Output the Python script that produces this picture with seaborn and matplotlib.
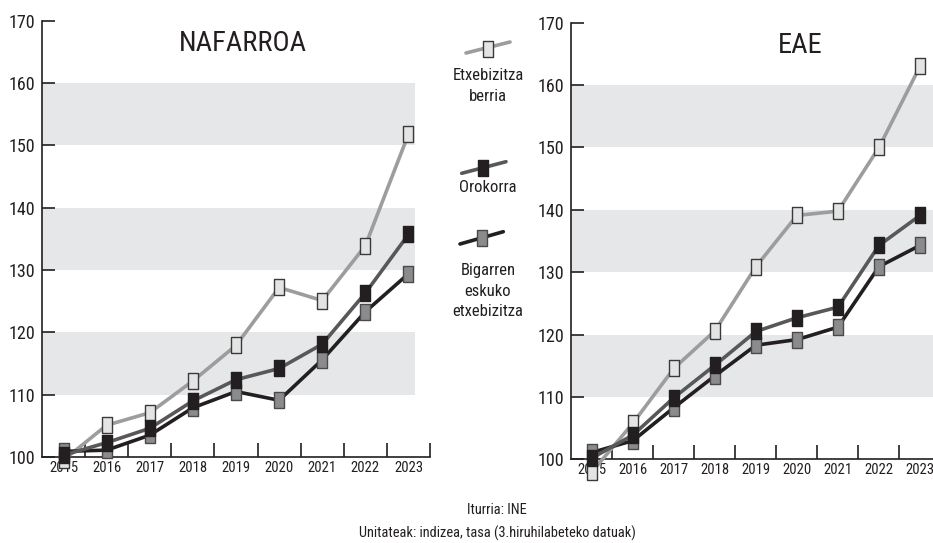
import numpy as np
import pandas as pd
import seaborn as sns
import matplotlib.pyplot as plt
from matplotlib.lines import Line2D

# Data
years = ["2015", "2016", "2017", "2018", "2019", "2020", "2021", "2022", "2023"]
series = ["Etxebizitza berria", "Bigarren eskuko etxebizitza", "Orokorra"]

nafarroa_berria = [99.5, 105.1, 107.1, 112.2, 117.9, 127.2, 125.1, 133.9, 151.8]
nafarroa_orokorra = [100.3, 102.3, 104.6, 109.0, 112.4, 114.2, 118.1, 126.3, 135.7]
nafarroa_bigarren = [100.9, 101.1, 103.5, 107.9, 110.5, 109.1, 115.6, 123.3, 129.4]

eae_berria = [98.0, 105.8, 114.6, 120.6, 130.9, 139.1, 139.8, 150.0, 163.0]
eae_orokorra = [100.2, 103.9, 109.9, 115.1, 120.5, 122.7, 124.4, 134.3, 139.1]
eae_bigarren = [101.1, 103.0, 108.3, 113.4, 118.3, 119.2, 121.2, 130.9, 134.3]

ink = '#231f20'
styles = {
    "Etxebizitza berria": dict(color='#9d9d9f', mfc='#e4e4e5', mec='#3a3a3a'),
    "Orokorra": dict(color='#58585a', mfc=ink, mec=ink),
    "Bigarren eskuko etxebizitza": dict(color=ink, mfc='#8b8b8d', mec='#4a4a4a'),
}
rect = [(-0.7, -1), (0.7, -1), (0.7, 1), (-0.7, 1), (-0.7, -1)]

sns.set_style("ticks")
plt.rcParams['font.family'] = ['Roboto Condensed', 'Liberation Sans Narrow', 'Arial Narrow',
                               'Roboto', 'DejaVu Sans']
plt.rcParams['font.stretch'] = 'condensed'
plt.rcParams['text.color'] = ink

fig = plt.figure(figsize=(9.33, 5.43), dpi=100)
ax_l = fig.add_axes([0.045, 0.1584, 0.4159, 0.8035])
ax_r = fig.add_axes([0.6125, 0.1541, 0.3955, 0.804])


def draw_panel(ax, data, title, title_x, band_xmax):
    for lo in [110, 130, 150]:
        ax.axhspan(lo, lo + 10, xmin=0, xmax=band_xmax, color='#e6e7e8', lw=0, zorder=0)
    df = pd.DataFrame({'pos': list(range(len(years))) * 3,
                       'value': data[series[0]] + data[series[1]] + data[series[2]],
                       'series': np.repeat(series, len(years))})
    for name in series:
        st = styles[name]
        sns.lineplot(data=df[df['series'] == name], x='pos', y='value', ax=ax,
                     color=st['color'], linewidth=2.6, marker=rect, markersize=11,
                     markerfacecolor=st['mfc'], markeredgecolor=st['mec'],
                     markeredgewidth=1.0, clip_on=False, zorder=3, legend=False)
    ax.set_xlim(-0.5, 8.5)
    ax.set_ylim(100, 170)
    ax.set_xticks(range(len(years)))
    ax.set_xticklabels(years, fontsize=10.5)
    ax.set_xticks(np.arange(0.5, 9, 1), minor=True)
    ax.tick_params(axis='x', which='major', length=0, pad=3, colors=ink)
    ax.tick_params(axis='x', which='minor', direction='in', length=10, width=1.2, color=ink)
    ax.set_yticks(range(100, 171, 10))
    ax.tick_params(axis='y', direction='in', length=9, width=1.2, labelsize=13, pad=5, colors=ink)
    ax.set_xlabel('')
    ax.set_ylabel('')
    sns.despine(ax=ax)
    for s in ['left', 'bottom']:
        ax.spines[s].set_linewidth(1.2)
        ax.spines[s].set_color(ink)
    ax.text(title_x, 166.3, title, ha='center', va='center', fontsize=20.5)


draw_panel(ax_l, {"Etxebizitza berria": nafarroa_berria, "Orokorra": nafarroa_orokorra,
                  "Bigarren eskuko etxebizitza": nafarroa_bigarren}, "NAFARROA", 4.16, 0.961)
draw_panel(ax_r, {"Etxebizitza berria": eae_berria, "Orokorra": eae_orokorra,
                  "Bigarren eskuko etxebizitza": eae_bigarren}, "EAE", 5.08, 1.0)


# Legend in the middle, drawn in figure pixels
def px(x, y):
    return x / 933, 1 - y / 543


legend_items = [
    ("Etxebizitza berria", (466, 53), (510, 42), (488, 49), "Etxebizitza\nberria", 86),
    ("Orokorra", (461.7, 173.3), (506, 161.7), (483.3, 167.7), "Orokorra", 188),
    ("Bigarren eskuko etxebizitza", (460, 244), (503.3, 231.7), (482, 238),
     "Bigarren\neskuko\netxebizitza", 291),
]
for name, p0, p1, pm, label, ty in legend_items:
    st = styles[name]
    (x0, y0), (x1, y1) = px(*p0), px(*p1)
    fig.add_artist(Line2D([x0, x1], [y0, y1], transform=fig.transFigure,
                          color=st['color'], linewidth=2.6))
    mx, my = px(*pm)
    fig.add_artist(Line2D([mx], [my], transform=fig.transFigure, marker=rect,
                          markersize=11, markerfacecolor=st['mfc'],
                          markeredgecolor=st['mec'], markeredgewidth=1.0, linestyle='none'))
    tx, tyf = px(488, ty)
    fig.text(tx, tyf, label, ha='center', va='center', fontsize=12, linespacing=1.45)

fig.text(*px(497, 510), "Iturria: INE", ha='center', va='center', fontsize=10.4)
fig.text(*px(497, 533), "Unitateak: indizea, tasa (3.hiruhilabeteko datuak)",
         ha='center', va='center', fontsize=10.4)

fig.savefig('out.png', dpi=100)
